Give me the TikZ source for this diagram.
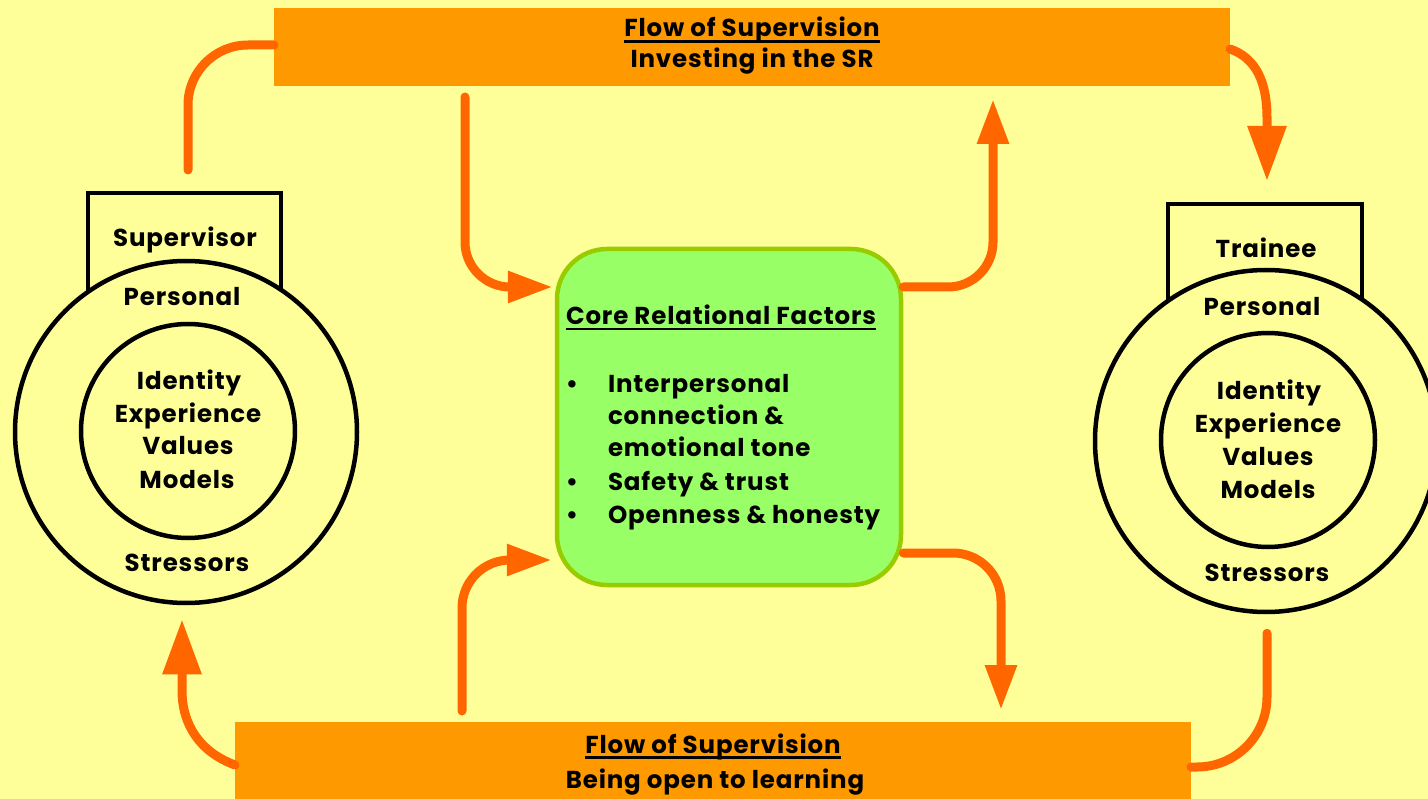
\documentclass[tikz,border=0pt]{standalone}
\usepackage{fontspec}
\setmainfont{Poppins}[LetterSpace=3.5]
\usetikzlibrary{arrows.meta,calc}
\definecolor{bgyellow}{HTML}{FFFF99}
\definecolor{barorange}{HTML}{FF9900}
\definecolor{arroworange}{HTML}{FF6600}
\definecolor{corefill}{HTML}{99FF66}
\definecolor{coreline}{HTML}{99CC00}
\tikzset{
  txt/.style={font=\fontsize{24.5}{33}\selectfont\bfseries, anchor=base, inner sep=0pt, outer sep=0pt},
  txtl/.style={txt, anchor=base west},
  bar/.style={fill=barorange, draw=none, rectangle, inner sep=0pt, outer sep=0pt},
  ring/.style={circle, draw=black, line width=4.5pt, fill=bgyellow, inner sep=0pt},
  namebox/.style={rectangle, draw=black, line width=4pt, fill=bgyellow, inner sep=0pt},
  conn/.style={draw=arroworange, line width=9pt, line cap=round},
  bigtip/.style={-{Triangle[length=55pt,width=37pt]}},
  smalltip/.style={-{Triangle[length=45pt,width=30pt]}},
  uline/.style={line width=2.2pt, black}
}
\begin{document}
\begin{tikzpicture}[x=1pt,y=-1pt]
\useasboundingbox (0,0) rectangle (1428,799);
\fill[bgyellow] (0,0) rectangle (1428,799);

% bars
\node[bar, minimum width=956pt, minimum height=78pt] (topbar) at (752,47) {};
\node[bar, minimum width=956pt, minimum height=80pt] (botbar) at (713,762) {};

% core box
\node[rectangle, rounded corners=50pt, fill=corefill, draw=coreline, line width=4.5pt,
      minimum width=344pt, minimum height=336pt, inner sep=0pt] (core) at (729,417) {};

% supervisor
\node[namebox, minimum width=193pt, minimum height=114pt] (supR) at (184.5,250) {};
\node[ring, minimum size=342pt] (supO) at (186,432) {};
\node[ring, minimum size=214pt] (supI) at (188,431) {};

% trainee
\node[namebox, minimum width=194pt, minimum height=114pt] (traR) at (1265,261) {};
\node[ring, minimum size=342pt] (traO) at (1266,441) {};
\node[ring, minimum size=214pt] (traI) at (1268,440) {};

% connectors
\draw[conn, rounded corners=60pt] ($(supR.north)+(3.5,-21)$) |- ($(topbar.west)+(0,-2)$);
\draw[conn, smalltip, rounded corners=45pt] ($(topbar.south)+(-287,11)$) |- ($(core.west)+(-2,-130)$);
\draw[conn, smalltip, rounded corners=45pt] ($(core.east)+(0,-130)$) -| ($(topbar.south)+(241,13)$);
\draw[conn, bigtip] ($(topbar.east)+(0,2)$) .. controls (1256,58) and (1267,82) .. (1267,118) -- ($(traR.north)+(2,-21)$);
\draw[conn, smalltip, rounded corners=48pt] ($(core.east)+(0,136)$) -| ($(botbar.north)+(288,-12)$);
\draw[conn, smalltip, rounded corners=48pt] ($(botbar.north)+(-251,-11)$) |- ($(core.west)+(-3,143)$);
\draw[conn, bigtip] ($(botbar.west)+(0,3)$) .. controls (200,752) and (182,725) .. (182,690) -- ($(supO.south)+(-4,14)$);
\draw[conn, rounded corners=70pt] ($(traO.south)+(1,19)$) |- ($(botbar.east)+(0,5)$);

% bar texts
\node[txt] (t1a) at (752,37) {Flow of Supervision};
\draw[uline] ([yshift=-4.5pt]t1a.base west) -- ([yshift=-4.5pt]t1a.base east);
\node[txt] (t1b) at (752,68) {Investing in the SR};
\node[txt] (t2a) at (713,753) {Flow of Supervision};
\draw[uline] ([yshift=-4.5pt]t2a.base west) -- ([yshift=-4.5pt]t2a.base east);
\node[txt] (t2b) at (715,788) {Being open to learning};

% supervisor texts
\node[txt] (s0) at (185,246.5) {Supervisor};
\node[txt] (s1) at (182,305.5) {Personal};
\node[txt] (s2) at (189,389.5) {Identity};
\node[txt] (s3) at (188,422.5) {Experience};
\node[txt] (s4) at (188,454.5) {Values};
\node[txt] (s5) at (187,488.5) {Models};
\node[txt] (s6) at (187,571.5) {Stressors};

% trainee texts
\node[txt] (r0) at (1266,257.5) {Trainee};
\node[txt] (r1) at (1262,315.5) {Personal};
\node[txt] (r2) at (1269,399.5) {Identity};
\node[txt] (r3) at (1268,432.5) {Experience};
\node[txt] (r4) at (1268,466) {Values};
\node[txt] (r5) at (1268,498.5) {Models};
\node[txt] (r6) at (1267,581.5) {Stressors};

% core texts
\node[txtl] (c0) at (566,325) {Core Relational Factors};
\draw[uline] ([yshift=-4pt]c0.base west) -- ([yshift=-4pt]c0.base east);
\node[txt] (b1) at (572,393) {•};
\node[txt] (b2) at (572,491) {•};
\node[txt] (b3) at (572,523) {•};
\node[txtl] (c1) at (608,393) {Interpersonal};
\node[txtl] (c2) at (608,425) {connection \&};
\node[txtl] (c3) at (608,457) {emotional tone};
\node[txtl] (c4) at (608,491) {Safety \& trust};
\node[txtl] (c5) at (608,523) {Openness \& honesty};
\end{tikzpicture}
\end{document}
